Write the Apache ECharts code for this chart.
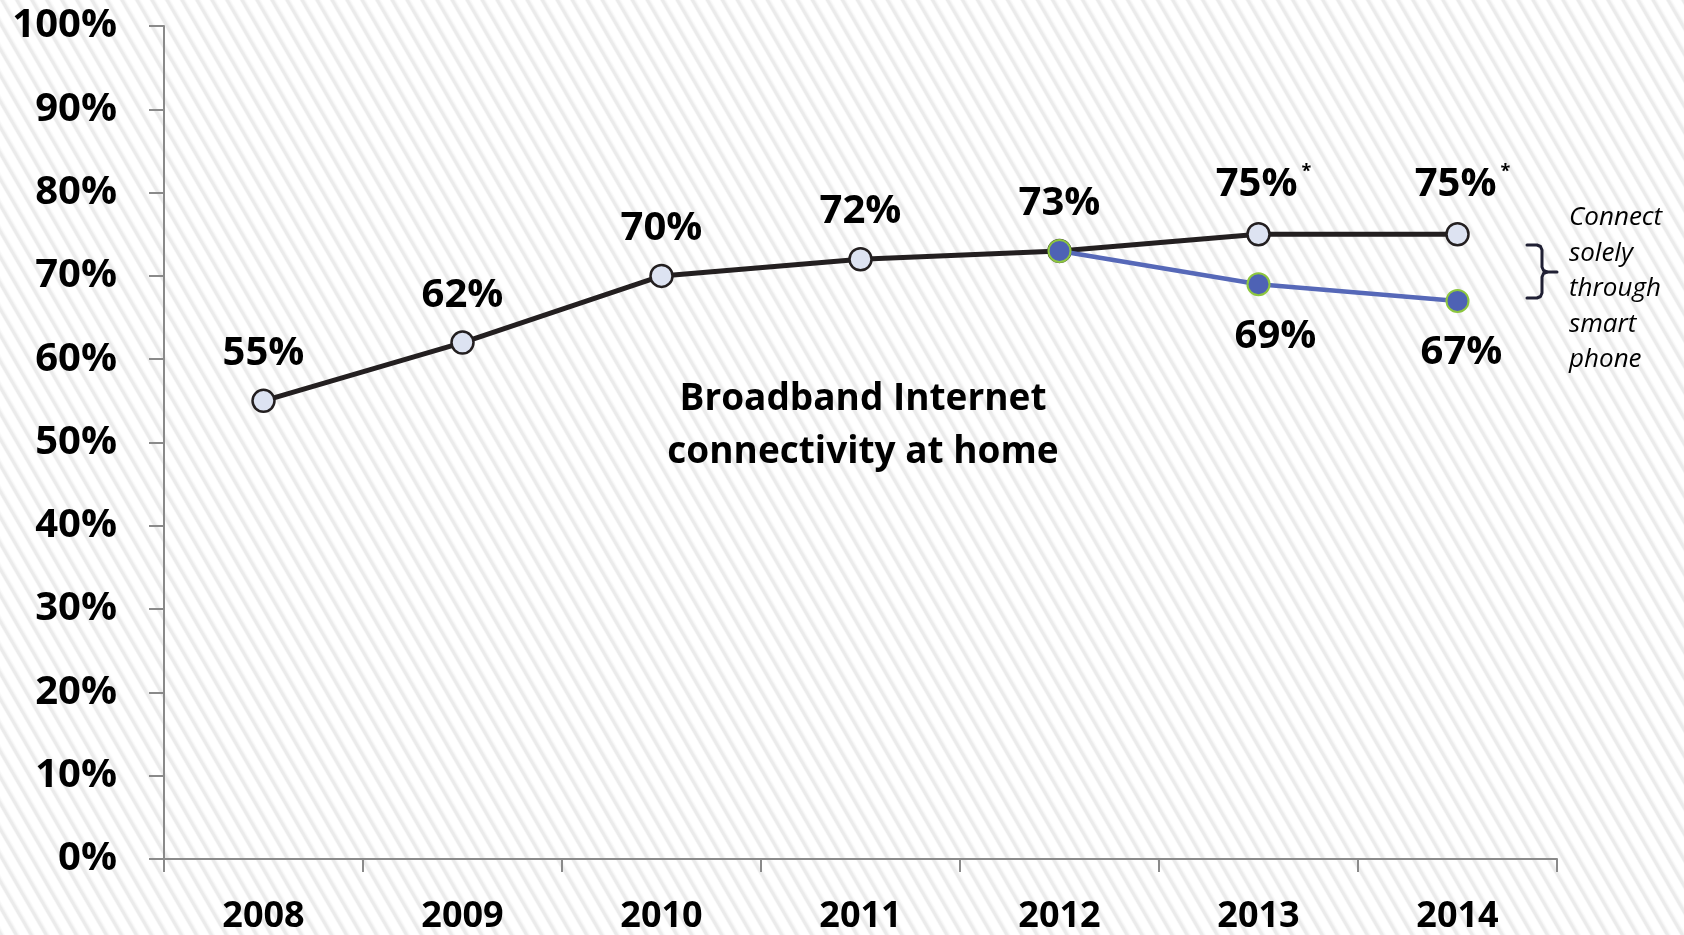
<!DOCTYPE html>
<html>
<head>
<meta charset="utf-8">
<script src="https://cdn.jsdelivr.net/npm/echarts@6/dist/echarts.min.js"></script>
<style>
  html, body { margin: 0; padding: 0; }
  #chart {
    width: 1684px; height: 935px;
    background-color: #ffffff;
    background-image: repeating-linear-gradient(60deg,
      #ebebeb 0px, #ebebeb 2px, #f8f8f8 3.5px, #ffffff 5px, #ffffff 11.5px, #f8f8f8 12.2px, #ebebeb 13px);
  }
</style>
</head>
<body>
<div id="chart"></div>
<script>
// ---- data ----
var years = ['2008', '2009', '2010', '2011', '2012', '2013', '2014'];
var broadband = [55, 62, 70, 72, 73, 75, 75];
var starred = [false, false, false, false, false, true, true];
var smartphoneExcl = [null, null, null, null, 73, 69, 67];
var yTicks = [0, 10, 20, 30, 40, 50, 60, 70, 80, 90, 100];
var centerNote = ['Broadband Internet', 'connectivity at home'];
var sideNote = ['Connect', 'solely', 'through', 'smart', 'phone'];

var FONT = '"Open Sans", "Noto Sans", sans-serif';

var chart = echarts.init(document.getElementById('chart'), null, { renderer: 'canvas' });

var blackData = broadband.map(function (v, i) {
  var d = { value: v };
  if (starred[i]) d.label = { formatter: '{v|' + v + '%}{s|*}', offset: [5, 0] };
  return d;
});
var blueOffsets = [0, 0, 0, 0, 0, 17, 4];
var blueData = smartphoneExcl.map(function (v, i) {
  if (v === null) return '-';
  return {
    value: v,
    label: { show: i > 4, offset: [blueOffsets[i], 0] }
  };
});

var braceStyle = { fill: 'none', stroke: '#1f1f33', lineWidth: 3, lineCap: 'round', lineJoin: 'round' };
var axisColor = '#8a8a8a';

var option = {
  animation: false,
  backgroundColor: 'transparent',
  grid: { left: 164, right: 127, top: 26, bottom: 73, containLabel: false },
  xAxis: {
    type: 'category',
    data: years,
    boundaryGap: true,
    axisLine: { lineStyle: { color: axisColor, width: 2 } },
    axisTick: { show: true, length: 13, lineStyle: { color: axisColor, width: 2 } },
    axisLabel: { color: '#000', fontFamily: FONT, fontWeight: 'bold', fontSize: 36, margin: 40 },
    splitLine: { show: false }
  },
  yAxis: {
    type: 'value',
    min: yTicks[0],
    max: yTicks[yTicks.length - 1],
    interval: yTicks[1] - yTicks[0],
    axisLine: { show: true, lineStyle: { color: axisColor, width: 2 } },
    axisTick: { show: true, length: 15, lineStyle: { color: axisColor, width: 2 } },
    axisLabel: { color: '#000', fontFamily: FONT, fontWeight: 'bold', fontSize: 40, margin: 47, formatter: '{value}%' },
    splitLine: { show: false }
  },
  series: [
    {
      name: 'Broadband',
      type: 'line',
      data: blackData,
      z: 2,
      symbol: 'circle',
      symbolSize: 22,
      lineStyle: { color: '#231f20', width: 5 },
      itemStyle: { color: '#dde3f2', borderColor: '#231f20', borderWidth: 2.5 },
      label: {
        show: true,
        position: 'top',
        distance: 15,
        color: '#000',
        fontFamily: FONT,
        fontWeight: 'bold',
        fontSize: 40,
        formatter: '{c}%',
        rich: {
          v: { color: '#000', fontFamily: FONT, fontWeight: 'bold', fontSize: 40 },
          s: { color: '#000', fontFamily: FONT, fontSize: 18, verticalAlign: 'top', padding: [0, 0, 26, 4] }
        }
      }
    },
    {
      name: 'Smartphone',
      type: 'line',
      data: blueData,
      z: 3,
      symbol: 'circle',
      symbolSize: 22,
      connectNulls: false,
      lineStyle: { color: '#5668b8', width: 4.5 },
      itemStyle: { color: '#4e62b5', borderColor: '#8dc63f', borderWidth: 2 },
      label: {
        show: true,
        position: 'bottom',
        distance: 20,
        color: '#000',
        fontFamily: FONT,
        fontWeight: 'bold',
        fontSize: 40,
        formatter: '{c}%'
      }
    }
  ],
  graphic: [
    {
      type: 'text',
      x: 863, y: 373,
      style: {
        text: centerNote.join('\n'),
        align: 'center',
        font: 'bold 37px ' + FONT,
        lineHeight: 53,
        fill: '#000'
      }
    },
    {
      type: 'text',
      x: 1569, y: 200,
      style: {
        text: sideNote.join('\n'),
        font: 'italic 26px ' + FONT,
        lineHeight: 35.5,
        fill: '#000'
      }
    },
    {
      type: 'polyline',
      shape: { points: [[1527, 245], [1537, 245], [1540.5, 246.5], [1542, 250], [1542, 267], [1543.5, 270.5], [1547, 272], [1557, 272]] },
      style: braceStyle
    },
    {
      type: 'polyline',
      shape: { points: [[1547, 272], [1543.5, 273.5], [1542, 277], [1542, 293], [1540.5, 296.5], [1537, 298], [1527, 298]] },
      style: braceStyle
    }
  ]
};

chart.setOption(option);
</script>
</body>
</html>
